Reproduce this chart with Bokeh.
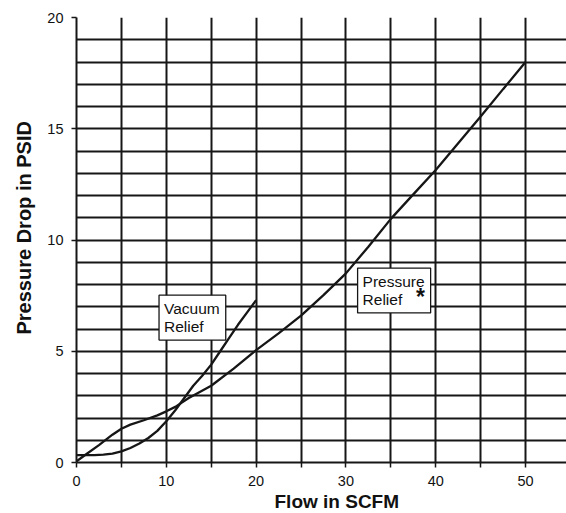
import math
from bokeh.plotting import figure
from bokeh.models import Range1d, FixedTicker, Label, Title
from bokeh.embed import file_html
from bokeh.resources import INLINE

# Data
pressure_flow = [0, 1, 2.5, 4, 5, 6, 7.5, 9, 10, 11, 12.5, 15, 17.5, 20, 22.5, 25,
                 27.5, 30, 32.5, 35, 37.5, 40, 42.5, 45, 47.5, 50]
pressure_drop = [0.05, 0.35, 0.78, 1.25, 1.52, 1.7, 1.9, 2.12, 2.3, 2.5, 2.9, 3.45,
                 4.22, 5.05, 5.8, 6.6, 7.52, 8.5, 9.7, 10.95, 12.05, 13.15, 14.35,
                 15.55, 16.78, 18.0]

vacuum_flow = [0, 1, 2, 3, 4, 5, 6, 7, 8, 9, 10, 11, 12, 13, 14, 15, 16, 17, 18, 19, 20]
vacuum_drop = [0.33, 0.33, 0.33, 0.35, 0.4, 0.5, 0.65, 0.85, 1.1, 1.42, 1.85, 2.35,
               2.9, 3.45, 3.9, 4.4, 5.0, 5.6, 6.2, 6.75, 7.3]

x_ticks = [0, 5, 10, 15, 20, 25, 30, 35, 40, 45, 50]
x_tick_labels = {0: "0", 5: "", 10: "10", 15: "", 20: "20", 25: "", 30: "30",
                 35: "", 40: "40", 45: "", 50: "50"}
y_ticks = [0, 5, 10, 15, 20]
x_grid = [0, 5, 10, 15, 20, 25, 30, 35, 40, 45, 50, 55]
y_grid = list(range(0, 21))

FONT = "Liberation Sans"

p = figure(width=566, height=513, output_backend="svg", toolbar_location=None,
           x_range=Range1d(0, 54.56), y_range=Range1d(0, 20),
           min_border_left=75, min_border_right=0, min_border_top=17,
           min_border_bottom=51)
p.outline_line_color = None
p.background_fill_color = "white"

# grid
p.xgrid.ticker = FixedTicker(ticks=x_grid)
p.ygrid.ticker = FixedTicker(ticks=y_grid)
for g in (p.xgrid, p.ygrid):
    g.grid_line_color = "#161616"
    g.grid_line_width = 2
    g.grid_line_alpha = 1

# axes
p.xaxis.ticker = FixedTicker(ticks=x_ticks)
p.xaxis.major_label_overrides = x_tick_labels
p.yaxis.ticker = FixedTicker(ticks=y_ticks)
for ax in (p.xaxis, p.yaxis):
    ax.axis_line_color = "#161616"
    ax.axis_line_width = 2
    ax.major_tick_line_color = "#161616"
    ax.major_tick_line_width = 1.5
    ax.major_tick_out = 5
    ax.major_tick_in = 0
    ax.minor_tick_line_color = None
    ax.major_label_text_font = FONT
    ax.major_label_text_font_size = "14.5px"
    ax.major_label_text_color = "#111111"
    ax.major_label_standoff = 8

# curves
p.line(pressure_flow, pressure_drop, line_color="#161616", line_width=2.3)
p.line(vacuum_flow, vacuum_drop, line_color="#161616", line_width=2.3)

# boxed annotations
def boxed(x, y, s):
    p.add_layout(Label(x=x, y=y, text=s, text_font=FONT, text_font_size="15.5px",
                       text_color="#111111", text_align="left", text_baseline="top",
                       text_line_height=1.05,
                       background_fill_color="white", background_fill_alpha=1,
                       border_line_color="#161616", border_line_width=1.3,
                       padding=(5, 6, 5, 5), level="overlay"))

boxed(9.19, 7.52, "Vacuum\nRelief")
boxed(31.3, 8.74, "Pressure\nRelief")
p.add_layout(Label(x=37.8, y=7.42, text="*", text_font=FONT, text_font_size="23px",
                   text_font_style="bold", text_color="#111111",
                   text_baseline="alphabetic", level="overlay"))

# axis titles
p.add_layout(Title(text="Flow in SCFM", align="left", offset=198,
                   text_font=FONT, text_font_size="19px", text_font_style="bold",
                   text_color="#111111", standoff=0), "below")
p.add_layout(Title(text="Pressure Drop in PSID", align="left", offset=128,
                   text_font=FONT, text_font_size="20px", text_font_style="bold",
                   text_color="#111111", standoff=20), "left")

open("out.html", "w").write(file_html(p, INLINE))
